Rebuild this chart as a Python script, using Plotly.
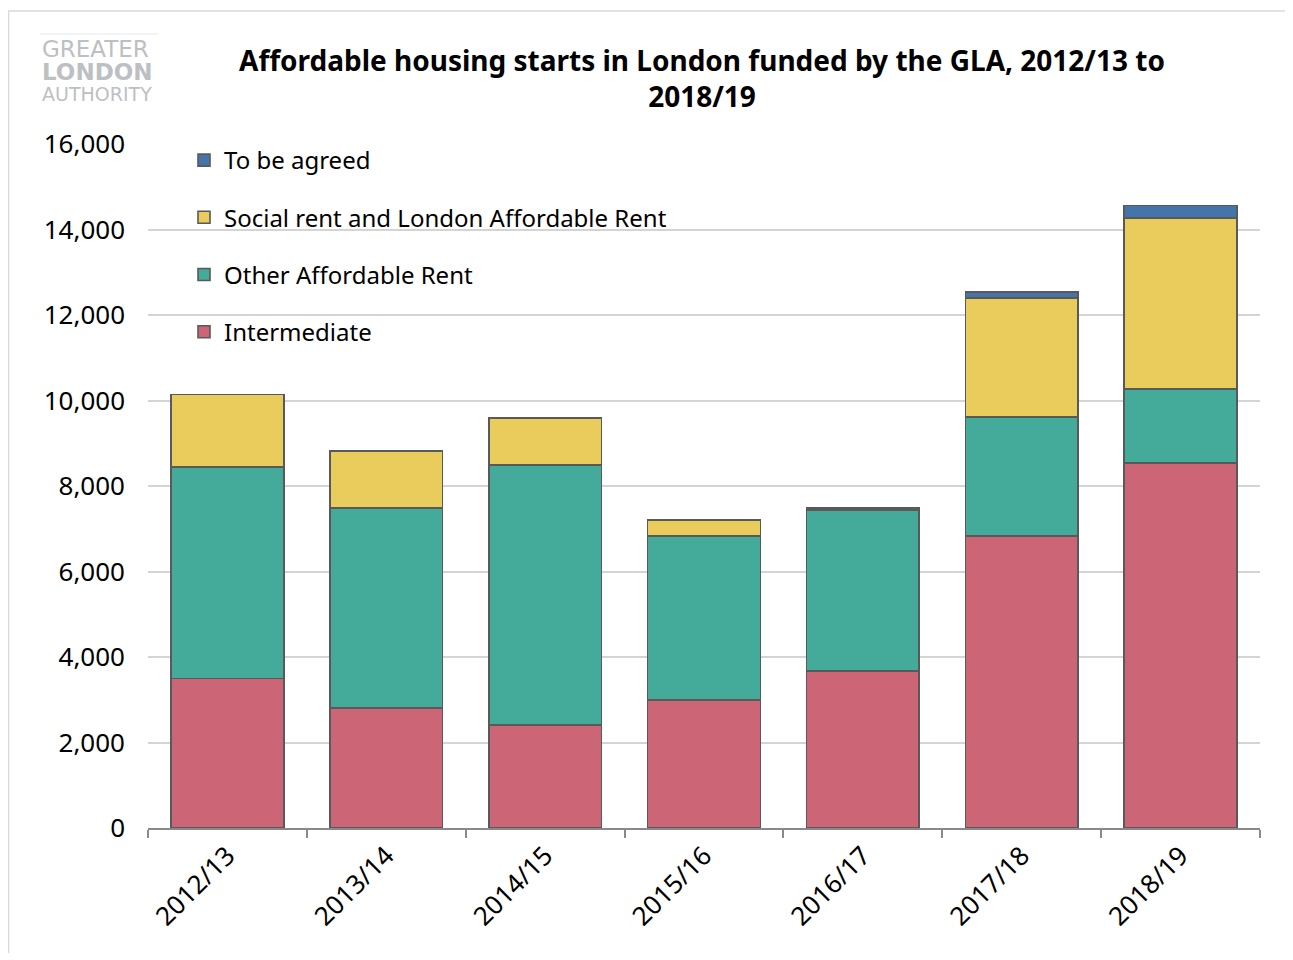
import plotly.graph_objects as go

years = ["2012/13", "2013/14", "2014/15", "2015/16", "2016/17", "2017/18", "2018/19"]
intermediate = [3500, 2810, 2410, 2995, 3675, 6830, 8545]
other_ar = [4940, 4675, 6080, 3840, 3765, 2790, 1720]
social_lar = [1700, 1335, 1100, 370, 20, 2775, 4005]
to_be_agreed = [0, 0, 0, 0, 25, 147, 290]

series = [
    ("Intermediate", intermediate, "#CC6677"),
    ("Other Affordable Rent", other_ar, "#44AA99"),
    ("Social rent and London Affordable Rent", social_lar, "#EACC5D"),
    ("To be agreed", to_be_agreed, "#4475AA"),
]

OFF = 8  # page body margin
W, H = 1280, 945
L = 148 - OFF
T = 144 - OFF
R = W - (1260 - OFF)
B = H - (828 - OFF)
FONT = "Noto Sans"

fig = go.Figure()
for i, (name, vals, col) in enumerate(series):
    fig.add_trace(go.Bar(
        x=years, y=vals, name=name, legendgroup=str(i), legendrank=10 - i,
        marker=dict(color=col, line=dict(color="#595959", width=1.6)),
    ))

pw = W - L - R
ph = H - T - B
def px_x(x):
    return (x - OFF - L) / pw
def px_y(y):
    return (H - B - (y - OFF)) / ph

fig.update_layout(
    width=W, height=H,
    margin=dict(l=L, r=R, t=T, b=B),
    barmode="stack", bargap=0.29,
    plot_bgcolor="white", paper_bgcolor="white",
    font=dict(family=FONT, size=24, color="#000000"),
    title=dict(
        text="<b>Affordable housing starts in London funded by the GLA, 2012/13 to<br>2018/19</b>",
        x=(702 - OFF) / W, xanchor="center", y=1 - 63 / H, yanchor="middle",
        font=dict(family=FONT, size=28, color="#000000"),
    ),
    legend=dict(
        x=px_x(184), y=px_y(138), xanchor="left", yanchor="top",
        bgcolor="rgba(0,0,0,0)", traceorder="grouped",
        tracegroupgap=23, font=dict(size=24),
        itemclick=False,
    ),
    xaxis=dict(
        type="category", tickangle=-45, showline=True, linecolor="#898989",
        linewidth=2, ticks="outside", ticklen=8, tickcolor="#898989",
        tickwidth=2, tickson="boundaries", showgrid=False,
        tickfont=dict(size=26),
    ),
    yaxis=dict(
        range=[0, 16000], dtick=2000, tickformat=",", showgrid=True,
        gridcolor="#D4D4D4", gridwidth=2, zeroline=False, showline=False,
        ticks="", ticklabelstandoff=22, tickfont=dict(size=26),
    ),
    shapes=[
        dict(type="line", xref="paper", yref="paper", x0=px_x(8), x1=px_x(1300),
             y0=px_y(11), y1=px_y(11), line=dict(color="#D9D9D9", width=1.5)),
        dict(type="line", xref="paper", yref="paper", x0=px_x(8.5), x1=px_x(8.5),
             y0=px_y(11), y1=px_y(970), line=dict(color="#D9D9D9", width=1.5)),
        dict(type="line", xref="paper", yref="paper", x0=px_x(40), x1=px_x(158),
             y0=px_y(34), y1=px_y(34), line=dict(color="#E4E9EE", width=1)),
    ],
    annotations=[
        dict(text="GREATER", xref="paper", yref="paper", x=px_x(40), y=px_y(49),
             xanchor="left", yanchor="middle", showarrow=False,
             font=dict(family="DejaVu Sans", size=23, color="#BCC0C3")),
        dict(text="<b>LONDON</b>", xref="paper", yref="paper", x=px_x(40), y=px_y(72),
             xanchor="left", yanchor="middle", showarrow=False,
             font=dict(family="DejaVu Sans", size=23, color="#BCC0C3")),
        dict(text="AUTHORITY", xref="paper", yref="paper", x=px_x(40), y=px_y(94),
             xanchor="left", yanchor="middle", showarrow=False,
             font=dict(family="DejaVu Sans", size=19, color="#BCC0C3")),
    ],
)

fig.write_html("out.html")
